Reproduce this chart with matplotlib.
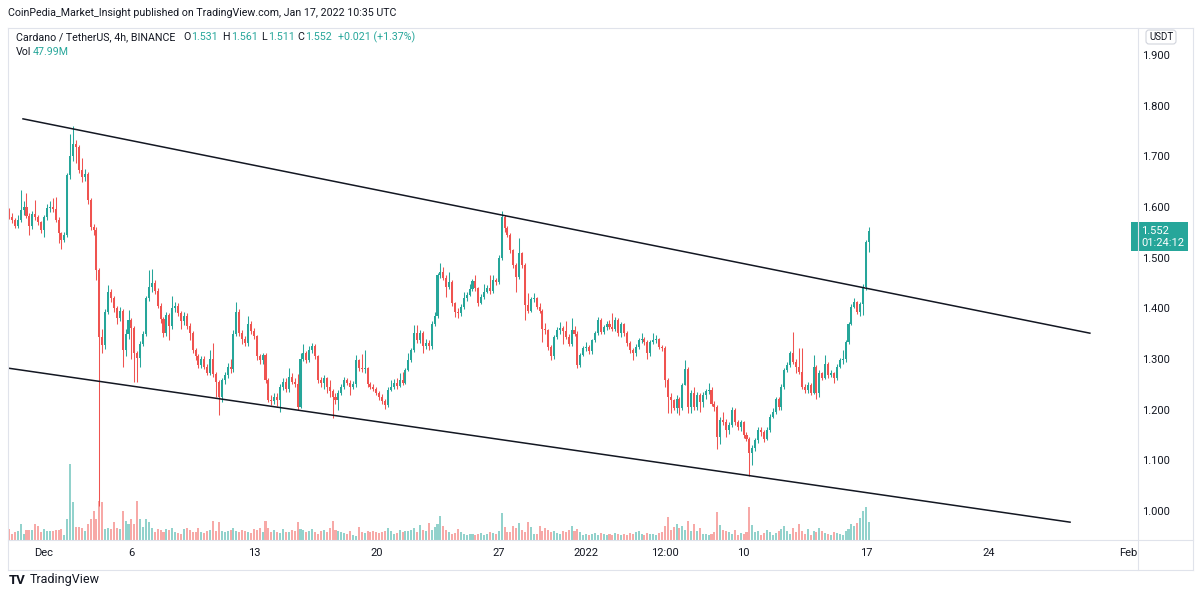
import numpy as np
import pandas as pd
import matplotlib
matplotlib.use("Agg")
import matplotlib.pyplot as plt
from matplotlib.patches import FancyBboxPatch, Rectangle

plt.rcParams["font.family"] = ["Roboto", "DejaVu Sans"]

# ADA / USDT, Binance, 4h candles starting 2021-11-29 00:00 UTC
first_open = 1.595
closes = [
    # Nov 29 - Dec 6
    1.581, 1.575, 1.562, 1.575, 1.595, 1.600, 1.583, 1.562, 1.586, 1.580,
    1.570, 1.555, 1.580, 1.598, 1.601, 1.596, 1.575, 1.548, 1.535, 1.545,
    1.663, 1.700, 1.725, 1.718, 1.673, 1.660, 1.665, 1.614, 1.561, 1.555,
    1.476, 1.344, 1.328, 1.393, 1.433, 1.420, 1.400, 1.380, 1.395, 1.318,
    1.350, 1.377, 1.362, 1.311, 1.302, 1.330, 1.350, 1.420, 1.443,
    # Dec 7 - Dec 15
    1.450, 1.435, 1.405, 1.378, 1.351, 1.387, 1.365, 1.400, 1.404, 1.390,
    1.375, 1.385, 1.365, 1.351, 1.318, 1.305, 1.288, 1.301, 1.285, 1.272,
    1.300, 1.270, 1.255, 1.225, 1.258, 1.268, 1.285, 1.280, 1.350, 1.392,
    1.352, 1.340, 1.332, 1.370, 1.355, 1.345, 1.305, 1.298, 1.308, 1.258,
    1.220, 1.218, 1.225, 1.220, 1.245, 1.255, 1.240, 1.265, 1.255,
    # Dec 15 - Dec 23
    1.250, 1.206, 1.300, 1.311, 1.298, 1.318, 1.325, 1.305, 1.258, 1.252,
    1.262, 1.245, 1.236, 1.226, 1.220, 1.232, 1.245, 1.258, 1.252, 1.245,
    1.250, 1.298, 1.282, 1.280, 1.282, 1.250, 1.245, 1.240, 1.232, 1.226,
    1.218, 1.210, 1.238, 1.245, 1.252, 1.246, 1.258, 1.253, 1.278, 1.298,
    1.318, 1.351, 1.338, 1.352, 1.325, 1.332, 1.325, 1.370, 1.384,
    # Dec 23 - Dec 31
    1.466, 1.472, 1.460, 1.443, 1.452, 1.410, 1.393, 1.390, 1.403, 1.420,
    1.426, 1.439, 1.453, 1.440, 1.410, 1.423, 1.432, 1.440, 1.434, 1.456,
    1.452, 1.499, 1.581, 1.558, 1.545, 1.515, 1.485, 1.462, 1.509, 1.485,
    1.407, 1.395, 1.418, 1.420, 1.403, 1.395, 1.360, 1.357, 1.324, 1.305,
    1.344, 1.357, 1.362, 1.355, 1.344, 1.330, 1.357, 1.350, 1.288,
    # Jan 1 - Jan 9
    1.308, 1.321, 1.324, 1.316, 1.337, 1.351, 1.377, 1.354, 1.364, 1.370,
    1.364, 1.360, 1.377, 1.351, 1.370, 1.351, 1.331, 1.318, 1.311, 1.324,
    1.337, 1.340, 1.334, 1.311, 1.334, 1.337, 1.340, 1.324, 1.321, 1.258,
    1.226, 1.219, 1.203, 1.222, 1.203, 1.248, 1.281, 1.206, 1.232, 1.206,
    1.229, 1.215, 1.229, 1.236, 1.239, 1.212, 1.206, 1.147, 1.180,
    # Jan 9 - Jan 17
    1.176, 1.160, 1.170, 1.199, 1.176, 1.166, 1.175, 1.150, 1.143, 1.114,
    1.125, 1.140, 1.160, 1.155, 1.142, 1.160, 1.186, 1.196, 1.222, 1.205,
    1.245, 1.278, 1.288, 1.311, 1.295, 1.285, 1.275, 1.245, 1.239, 1.249,
    1.232, 1.285, 1.232, 1.272, 1.262, 1.291, 1.268, 1.272, 1.262, 1.285,
    1.298, 1.301, 1.334, 1.370, 1.403, 1.412, 1.392, 1.408, 1.443, 1.531,
    1.552,
]
highs = [
    1.598, 1.588, 1.578, 1.585, 1.634, 1.612, 1.627, 1.588, 1.592, 1.614,
    1.585, 1.572, 1.585, 1.605, 1.612, 1.617, 1.620, 1.580, 1.550, 1.550,
    1.668, 1.745, 1.759, 1.732, 1.722, 1.696, 1.675, 1.670, 1.617, 1.566,
    1.560, 1.480, 1.360, 1.398, 1.446, 1.438, 1.425, 1.405, 1.402, 1.398,
    1.360, 1.397, 1.380, 1.365, 1.315, 1.335, 1.355, 1.425, 1.475,
    1.478, 1.455, 1.440, 1.410, 1.382, 1.392, 1.390, 1.425, 1.412, 1.410,
    1.395, 1.392, 1.390, 1.372, 1.355, 1.322, 1.310, 1.306, 1.305, 1.290,
    1.318, 1.332, 1.275, 1.258, 1.262, 1.275, 1.292, 1.300, 1.358, 1.413,
    1.398, 1.358, 1.345, 1.385, 1.375, 1.362, 1.348, 1.310, 1.312, 1.312,
    1.262, 1.228, 1.232, 1.232, 1.250, 1.262, 1.262, 1.282, 1.272,
    1.262, 1.270, 1.312, 1.330, 1.315, 1.325, 1.332, 1.330, 1.308, 1.265,
    1.268, 1.265, 1.258, 1.240, 1.232, 1.238, 1.250, 1.265, 1.262, 1.258,
    1.256, 1.308, 1.300, 1.310, 1.318, 1.285, 1.255, 1.250, 1.244, 1.236,
    1.230, 1.222, 1.245, 1.258, 1.260, 1.262, 1.272, 1.275, 1.282, 1.311,
    1.322, 1.367, 1.367, 1.358, 1.356, 1.340, 1.338, 1.375, 1.392,
    1.470, 1.489, 1.482, 1.465, 1.472, 1.455, 1.412, 1.400, 1.408, 1.433,
    1.432, 1.449, 1.458, 1.466, 1.442, 1.428, 1.449, 1.447, 1.466, 1.466,
    1.460, 1.505, 1.593, 1.585, 1.562, 1.548, 1.518, 1.490, 1.538, 1.512,
    1.490, 1.430, 1.422, 1.430, 1.422, 1.410, 1.398, 1.372, 1.360, 1.328,
    1.348, 1.364, 1.374, 1.366, 1.375, 1.350, 1.380, 1.365, 1.355,
    1.312, 1.326, 1.334, 1.328, 1.340, 1.356, 1.382, 1.380, 1.368, 1.375,
    1.377, 1.390, 1.382, 1.380, 1.374, 1.372, 1.355, 1.335, 1.322, 1.330,
    1.342, 1.351, 1.344, 1.338, 1.338, 1.351, 1.347, 1.342, 1.328, 1.325,
    1.262, 1.232, 1.222, 1.228, 1.225, 1.252, 1.298, 1.284, 1.238, 1.245,
    1.234, 1.232, 1.234, 1.240, 1.252, 1.245, 1.218, 1.210, 1.186,
    1.196, 1.182, 1.175, 1.206, 1.203, 1.180, 1.180, 1.178, 1.155, 1.146,
    1.130, 1.145, 1.166, 1.165, 1.160, 1.165, 1.192, 1.203, 1.226, 1.225,
    1.250, 1.283, 1.295, 1.316, 1.354, 1.300, 1.321, 1.321, 1.250, 1.254,
    1.252, 1.308, 1.288, 1.278, 1.275, 1.308, 1.295, 1.278, 1.275, 1.290,
    1.302, 1.318, 1.338, 1.374, 1.408, 1.420, 1.415, 1.412, 1.448, 1.535,
    1.561,
]
lows = [
    1.576, 1.568, 1.558, 1.558, 1.570, 1.585, 1.578, 1.545, 1.556, 1.575,
    1.565, 1.548, 1.541, 1.575, 1.590, 1.590, 1.570, 1.529, 1.518, 1.530,
    1.540, 1.655, 1.690, 1.687, 1.668, 1.650, 1.652, 1.605, 1.555, 1.545,
    1.455, 1.010, 1.311, 1.320, 1.388, 1.412, 1.392, 1.370, 1.375, 1.285,
    1.305, 1.340, 1.300, 1.255, 1.255, 1.285, 1.325, 1.345, 1.415,
    1.432, 1.428, 1.400, 1.372, 1.344, 1.345, 1.337, 1.360, 1.392, 1.385,
    1.360, 1.368, 1.360, 1.338, 1.312, 1.298, 1.282, 1.282, 1.280, 1.268,
    1.268, 1.265, 1.225, 1.190, 1.215, 1.250, 1.262, 1.272, 1.275, 1.345,
    1.345, 1.330, 1.325, 1.325, 1.350, 1.340, 1.298, 1.290, 1.290, 1.252,
    1.215, 1.210, 1.212, 1.208, 1.196, 1.238, 1.235, 1.235, 1.250,
    1.245, 1.200, 1.204, 1.296, 1.292, 1.295, 1.312, 1.300, 1.252, 1.245,
    1.240, 1.232, 1.225, 1.183, 1.212, 1.200, 1.228, 1.240, 1.248, 1.228,
    1.240, 1.245, 1.276, 1.274, 1.272, 1.245, 1.240, 1.236, 1.228, 1.220,
    1.212, 1.202, 1.205, 1.236, 1.240, 1.240, 1.244, 1.248, 1.250, 1.276,
    1.295, 1.314, 1.332, 1.332, 1.311, 1.320, 1.318, 1.320, 1.366,
    1.380, 1.460, 1.455, 1.423, 1.438, 1.405, 1.383, 1.380, 1.385, 1.398,
    1.415, 1.424, 1.435, 1.435, 1.405, 1.408, 1.418, 1.430, 1.428, 1.430,
    1.446, 1.448, 1.495, 1.550, 1.540, 1.510, 1.480, 1.433, 1.458, 1.480,
    1.377, 1.390, 1.392, 1.412, 1.398, 1.390, 1.334, 1.350, 1.318, 1.298,
    1.300, 1.340, 1.350, 1.330, 1.340, 1.325, 1.325, 1.345, 1.282,
    1.285, 1.305, 1.316, 1.310, 1.310, 1.333, 1.348, 1.350, 1.350, 1.358,
    1.360, 1.355, 1.356, 1.346, 1.344, 1.346, 1.326, 1.311, 1.298, 1.305,
    1.320, 1.332, 1.328, 1.301, 1.305, 1.330, 1.332, 1.320, 1.316, 1.245,
    1.193, 1.193, 1.199, 1.193, 1.189, 1.200, 1.248, 1.193, 1.193, 1.200,
    1.200, 1.196, 1.205, 1.222, 1.230, 1.208, 1.198, 1.123, 1.133,
    1.170, 1.147, 1.152, 1.165, 1.170, 1.160, 1.158, 1.145, 1.138, 1.069,
    1.091, 1.118, 1.135, 1.148, 1.136, 1.140, 1.155, 1.183, 1.192, 1.200,
    1.200, 1.240, 1.275, 1.284, 1.290, 1.272, 1.270, 1.240, 1.232, 1.232,
    1.228, 1.230, 1.222, 1.225, 1.258, 1.260, 1.262, 1.264, 1.252, 1.258,
    1.282, 1.290, 1.295, 1.330, 1.367, 1.400, 1.388, 1.385, 1.387, 1.436,
    1.511,
]
# volume, millions of ADA
volumes = [
    29, 16, 21, 24, 43, 16, 27, 27, 27, 43, 37, 21, 29, 24, 24, 24, 27, 27, 29, 13,
    56, 203, 101, 35, 35, 32, 24, 43, 56, 77, 56, 104, 101, 29, 32, 29, 48, 32, 29, 77,
    51, 43, 56, 43, 104, 56, 35, 56, 48,
    32, 21, 29, 27, 21, 29, 27, 32, 21, 19, 16, 29, 32, 27, 21, 21, 32, 21, 19, 24,
    27, 51, 24, 48, 24, 21, 24, 27, 32, 24, 21, 27, 24, 21, 19, 29, 27, 32, 21, 51,
    32, 21, 27, 21, 19, 29, 21, 21, 27,
    24, 48, 29, 27, 21, 24, 29, 21, 16, 24, 27, 21, 32, 51, 27, 24, 21, 19, 16, 24,
    13, 11, 35, 21, 19, 24, 21, 24, 21, 19, 21, 24, 32, 24, 16, 19, 27, 21, 24, 24,
    27, 32, 21, 40, 27, 24, 45, 27, 35,
    43, 64, 37, 27, 21, 16, 19, 29, 21, 16, 13, 16, 16, 13, 16, 19, 13, 16, 21, 19,
    16, 24, 72, 35, 21, 21, 37, 32, 45, 27, 21, 48, 35, 16, 16, 37, 24, 32, 27, 21,
    24, 19, 16, 24, 21, 27, 37, 24, 29,
    21, 13, 16, 13, 16, 19, 13, 19, 16, 13, 16, 13, 19, 16, 13, 16, 13, 19, 16, 21,
    24, 16, 13, 19, 16, 16, 13, 19, 21, 37, 61, 27, 35, 43, 32, 37, 27, 51, 24, 43,
    24, 32, 16, 16, 13, 16, 21, 75, 40,
    27, 24, 21, 16, 27, 13, 19, 16, 21, 88, 40, 21, 24, 13, 19, 27, 21, 13, 19, 24,
    29, 37, 24, 16, 32, 21, 43, 24, 16, 29, 13, 24, 21, 32, 24, 19, 16, 13, 21, 19,
    16, 13, 24, 29, 43, 37, 45, 59, 77, 88, 47.99,
]

start = pd.Timestamp("2021-11-29 00:00")
tick_dates = ["2021-12-01", "2021-12-06", "2021-12-13", "2021-12-20", "2021-12-27",
              "2022-01-01", "2022-01-05 12:00", "2022-01-10", "2022-01-17",
              "2022-01-24", "2022-02-01"]
tick_labels = ["Dec", "6", "13", "20", "27", "2022", "12:00", "10", "17", "24", "Feb"]
price_ticks = [1.0, 1.1, 1.2, 1.3, 1.4, 1.5, 1.6, 1.7, 1.8, 1.9]

# channel lines drawn on the chart (bar number, price)
upper_bars, upper_prices = [4.8, 370.8], [1.774, 1.351]
lower_bars, lower_prices = [-0.3, 364.0], [1.282, 0.978]

UP, DOWN = "#26a69a", "#ef5350"
UP_VOL, DOWN_VOL = "#92d2cc", "#f7a9a7"
TXT, BORDER = "#131722", "#e0e3eb"

closes = np.array(closes)
highs = np.array(highs)
lows = np.array(lows)
opens = np.concatenate([[first_open], closes[:-1]])
bars = np.arange(len(closes))
rising = closes >= opens

W, H = 1200, 596
fig = plt.figure(figsize=(W / 100, H / 100), dpi=100)
rect = [8 / W, (H - 540) / H, 1130 / W, 512 / H]
xlim = (-1 / 2.915, 1129 / 2.915)

# volume pane underneath
axv = fig.add_axes(rect)
axv.bar(bars, volumes, width=0.7, color=np.where(rising, UP_VOL, DOWN_VOL), linewidth=0)
axv.set_xlim(*xlim)
axv.set_ylim(0, 1367)
axv.axis("off")

ax = fig.add_axes(rect)
ax.patch.set_visible(False)
colors = np.where(rising, UP, DOWN)
ax.vlines(bars, lows, highs, colors=colors, linewidth=0.75)
body = np.maximum(np.abs(closes - opens), 0.0012)
ax.bar(bars, body, bottom=np.minimum(opens, closes), width=0.7, color=colors, linewidth=0)
ax.plot(upper_bars, upper_prices, color=TXT, linewidth=1.1)
ax.plot(lower_bars, lower_prices, color=TXT, linewidth=1.1)

ax.set_xlim(*xlim)
ax.set_ylim(0.9428, 1.9533)
tick_pos = [(pd.Timestamp(d) - start) / pd.Timedelta(hours=4) for d in tick_dates]
ax.set_xticks(tick_pos, tick_labels)
ax.set_yticks(price_ticks, [f"{p:.3f}" for p in price_ticks])
ax.yaxis.tick_right()
ax.tick_params(axis="both", length=0, labelsize=8, labelcolor=TXT)
ax.tick_params(axis="x", pad=6)
ax.tick_params(axis="y", pad=3)
for s in ax.spines.values():
    s.set_visible(False)

# frame, header and labels in pixel space
ov = fig.add_axes([0, 0, 1, 1])
ov.set_xlim(0, W)
ov.set_ylim(H, 0)
ov.axis("off")
ov.patch.set_visible(False)
for xs, ys in [([8, 1193], [28, 28]), ([8, 1193], [570, 570]), ([8, 8], [28, 570]),
               ([1193, 1193], [28, 570]), ([1138, 1138], [28, 570]), ([8, 1193], [540, 540])]:
    ov.plot(xs, ys, color=BORDER, linewidth=0.8)

ov.text(8, 13, "CoinPedia_Market_Insight published on TradingView.com, Jan 17, 2022 10:35 UTC",
        fontsize=7.7, color=TXT, va="center")
legend_row = [("Cardano / TetherUS, 4h, BINANCE", 16, TXT),
              ("O", 183, TXT), ("1.531", 191, UP), ("H", 222, TXT), ("1.561", 231, UP),
              ("L", 261, TXT), ("1.511", 268, UP), ("C", 297, TXT), ("1.552", 305, UP),
              ("+0.021 (+1.37%)", 338, UP)]
for s, x, c in legend_row:
    ov.text(x, 37, s, fontsize=7.7, color=c, va="center")
ov.text(16, 52, "Vol", fontsize=7.7, color=TXT, va="center")
ov.text(33, 52, "47.99M", fontsize=7.7, color=UP, va="center")

ov.add_patch(FancyBboxPatch((1146, 30), 30, 14, boxstyle="round,pad=0,rounding_size=3",
                            facecolor="white", edgecolor="#d1d4dc", linewidth=0.8))
ov.text(1161, 37, "USDT", fontsize=7, color=TXT, ha="center", va="center")

last_y = H - ax.transData.transform((0, closes[-1]))[1]
ov.add_patch(Rectangle((1131, last_y - 9), 57, 29, facecolor=UP, edgecolor="none"))
ov.text(1141, last_y, f"{closes[-1]:.3f}", fontsize=8, color="white", va="center")
ov.text(1141, last_y + 12, "01:24:12", fontsize=8, color="white", va="center")

ov.text(9, 580, "TV", fontsize=9.5, fontweight="bold", color=TXT, va="center")
ov.text(30, 580, "TradingView", fontsize=9, color=TXT, va="center")

fig.savefig("out.png", dpi=100, facecolor="white")
